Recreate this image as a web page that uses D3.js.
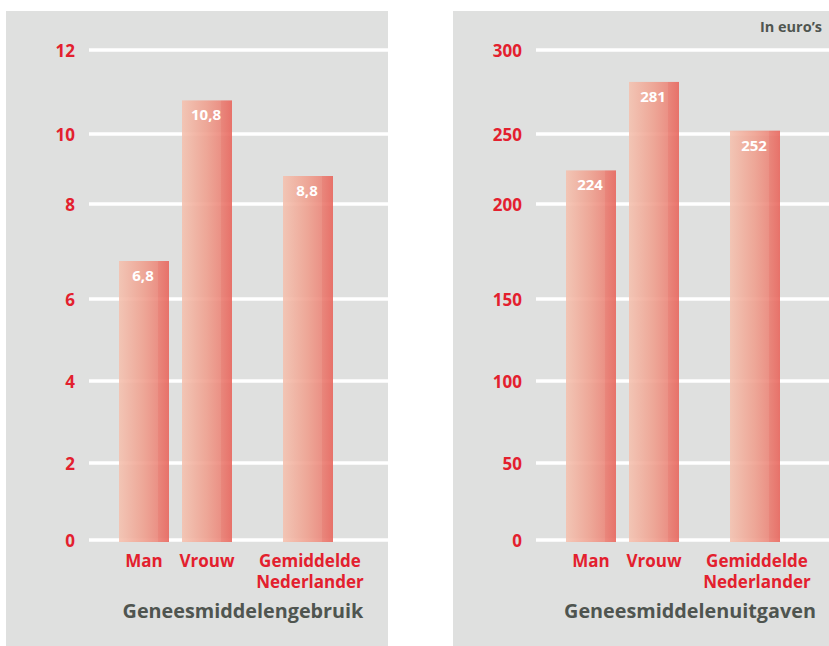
<!DOCTYPE html>
<html>
<head>
<meta charset="utf-8">
<script src="https://cdn.jsdelivr.net/npm/d3@7"></script>
<style>
  html, body { margin: 0; padding: 0; background: #ffffff; }
  svg { display: block; }
  text { font-family: "Open Sans", "Noto Sans", sans-serif; font-weight: 700; }
</style>
</head>
<body>
<svg id="chart" width="829" height="646"></svg>
<script>
// Data
const categories = ["Man", "Vrouw", "Gemiddelde\nNederlander"];
const gebruikValues = [6.8, 10.8, 8.8];
const uitgavenValues = [224, 281, 252];
const gebruikTicks = [0, 2, 4, 6, 8, 10, 12];
const uitgavenTicks = [0, 50, 100, 150, 200, 250, 300];
const gebruikLabels = ["6,8", "10,8", "8,8"];
const uitgavenLabels = ["224", "281", "252"];
const titles = ["Geneesmiddelengebruik", "Geneesmiddelenuitgaven"];
const unitNote = "In euro\u2019s";

const RED = "#e3202e";
const GREY_TEXT = "#4f5550";
const PANEL_BG = "#dfe0df";

const svg = d3.select("#chart");

// Bar gradient: pale salmon to red, with a slightly darker strip on the right
const defs = svg.append("defs");
const grad = defs.append("linearGradient").attr("id", "barGrad")
  .attr("x1", "0%").attr("x2", "100%").attr("y1", "0%").attr("y2", "0%");
[["0%", "#f4c2b0"], ["50%", "#efa08f"], ["77%", "#ec897c"], ["78%", "#ea7d71"], ["100%", "#e8665d"]]
  .forEach(([o, c]) => grad.append("stop").attr("offset", o).attr("stop-color", c));

function drawPanel(opts) {
  const g = svg.append("g").attr("transform", `translate(${opts.x},0)`);

  g.append("rect")
    .attr("x", 0).attr("y", 11)
    .attr("width", opts.width).attr("height", 646 - 11)
    .attr("fill", PANEL_BG);

  // gridline spacing as printed: the vertical scale is piecewise linear between ticks
  const y = d3.scaleLinear()
    .domain(opts.ticks)
    .range([540, 463, 381, 299, 204, 134, 50]);

  const gridX0 = 83;

  // gridlines
  g.append("g").selectAll("line")
    .data(opts.ticks)
    .join("line")
    .attr("x1", gridX0).attr("x2", opts.width)
    .attr("y1", d => y(d)).attr("y2", d => y(d))
    .attr("stroke", "#ffffff").attr("stroke-width", 3.5);

  // tick labels
  const yAxis = d3.axisLeft(y).tickValues(opts.ticks).tickSize(0).tickPadding(0)
    .tickFormat(d => String(d));
  const ax = g.append("g").attr("transform", `translate(${gridX0 - 14},0)`).call(yAxis);
  ax.select(".domain").remove();
  ax.selectAll("text")
    .attr("fill", RED)
    .attr("font-size", 17)
    .attr("font-family", "'Open Sans', 'Noto Sans', sans-serif")
    .attr("font-weight", 700)
    .attr("dy", "0.36em");

  // bar positions: two bars side by side, the average set apart
  const x = d3.scaleOrdinal().domain(categories).range([gridX0 + 30, gridX0 + 93, gridX0 + 194]);
  const barW = 50;

  g.append("g").selectAll("rect")
    .data(opts.values)
    .join("rect")
    .attr("x", (d, i) => x(categories[i]))
    .attr("y", d => y(d))
    .attr("width", barW)
    .attr("height", d => y(0) - y(d) + 2)
    .attr("fill", "url(#barGrad)")
    .attr("fill-opacity", 0.9);

  // value labels inside bars
  g.append("g").selectAll("text")
    .data(opts.values)
    .join("text")
    .attr("x", (d, i) => x(categories[i]) + barW / 2 - 1)
    .attr("y", d => y(d) + 20)
    .attr("text-anchor", "middle")
    .attr("fill", "#ffffff")
    .attr("font-size", 15)
    .text((d, i) => opts.labels[i]);

  // category labels
  const cat = g.append("g").selectAll("text")
    .data(categories)
    .join("text")
    .attr("x", d => x(d) + barW / 2)
    .attr("y", 567)
    .attr("text-anchor", "middle")
    .attr("fill", RED)
    .attr("font-size", 17);
  cat.each(function(d) {
    const lines = d.split("\n");
    d3.select(this).selectAll("tspan")
      .data(lines)
      .join("tspan")
      .attr("x", x(d) + barW / 2 + (lines.length > 1 ? 2 : 0))
      .attr("dy", (l, i) => i === 0 ? 0 : 21)
      .text(l => l);
  });

  // panel title
  g.append("text")
    .attr("x", 237)
    .attr("y", 618)
    .attr("text-anchor", "middle")
    .attr("fill", GREY_TEXT)
    .attr("font-size", 19.8)
    .text(opts.title);

  if (opts.note) {
    g.append("text")
      .attr("x", opts.width - 7)
      .attr("y", 32)
      .attr("text-anchor", "end")
      .attr("fill", GREY_TEXT)
      .attr("font-size", 14.5)
      .text(opts.note);
  }
}

drawPanel({ x: 6, width: 382, ticks: gebruikTicks, values: gebruikValues, labels: gebruikLabels, title: titles[0] });
drawPanel({ x: 453, width: 376, ticks: uitgavenTicks, values: uitgavenValues, labels: uitgavenLabels, title: titles[1], note: unitNote });
</script>
</body>
</html>
